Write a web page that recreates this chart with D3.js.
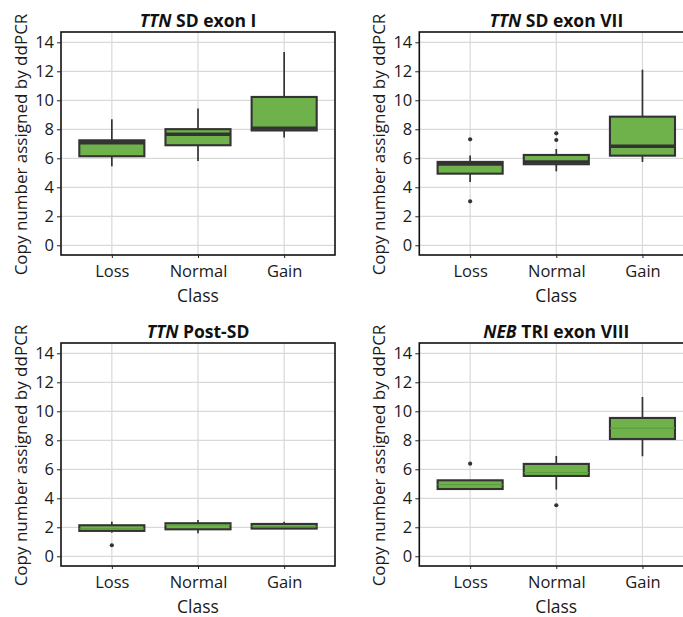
<!DOCTYPE html>
<html><head><meta charset="utf-8">
<script src="https://cdn.jsdelivr.net/npm/d3@7"></script>
<style>html,body{margin:0;padding:0;background:#fff;overflow:hidden}svg{display:block}</style>
</head><body>
<script>
// ---- data ----
const categories = ["Loss", "Normal", "Gain"];
const yTicks = [0, 2, 4, 6, 8, 10, 12, 14];
const titleGenes = ["TTN", "TTN", "TTN", "NEB"];
const titleRest = [" SD exon I", " SD exon VII", " Post-SD", " TRI exon VIII"];
const xLabel = "Class";
const yLabel = "Copy number assigned by ddPCR";
// [whisker low, Q1, median, Q3, whisker high] per category
const exonIStats   = [[5.45, 6.14, 7.07, 7.24, 8.69], [5.82, 6.90, 7.66, 8.01, 9.43], [7.43, 7.92, 8.08, 10.23, 13.33]];
const exonVIIStats = [[4.37, 4.94, 5.61, 5.75, 6.20], [5.10, 5.59, 5.75, 6.23, 6.64], [5.75, 6.18, 6.83, 8.87, 12.11]];
const postSDStats  = [[1.63, 1.75, 1.90, 2.14, 2.39], [1.59, 1.86, 2.16, 2.28, 2.50], [1.88, 1.91, 2.05, 2.23, 2.38]];
const nebVIIIStats = [[4.64, 4.64, 4.94, 5.24, 5.24], [4.60, 5.54, 5.77, 6.37, 6.92], [6.90, 8.09, 8.83, 9.54, 10.99]];
const exonIOutliers   = [[], [], []];
const exonVIIOutliers = [[7.31, 3.03], [7.72, 7.26], []];
const postSDOutliers  = [[0.76], [], []];
const nebVIIIOutliers = [[6.39], [3.52], []];

const panels = [
  {stats: exonIStats, out: exonIOutliers, gene: titleGenes[0], rest: titleRest[0], left: 61, top: 32, thickMedian: true},
  {stats: exonVIIStats, out: exonVIIOutliers, gene: titleGenes[1], rest: titleRest[1], left: 419.3, top: 32, thickMedian: true},
  {stats: postSDStats, out: postSDOutliers, gene: titleGenes[2], rest: titleRest[2], left: 61, top: 343, thickMedian: false},
  {stats: nebVIIIStats, out: nebVIIIOutliers, gene: titleGenes[3], rest: titleRest[3], left: 419.3, top: 343, thickMedian: false}
];

const W = 683, H = 617;
const pw = 274, ph = 223;
const FONT = "'Open Sans', 'Noto Sans', sans-serif";
const svg = d3.select("body").append("svg").attr("width", W).attr("height", H)
  .style("font-family", FONT);

const green = "#6fb24b", dark = "#333333", gridC = "#d9d9d9";

panels.forEach(p => {
  const g = svg.append("g").attr("transform", `translate(${p.left},${p.top})`);
  const x = d3.scalePoint().domain(categories).range([0, pw]).padding(0.59);
  const y = d3.scaleLinear().domain([-0.67, 14.71]).range([ph, 0]);
  const bw = x.step() * 0.755;

  // grid
  g.selectAll(".gy").data(yTicks).join("line")
    .attr("x1", 0).attr("x2", pw).attr("y1", d => y(d)).attr("y2", d => y(d))
    .attr("stroke", gridC).attr("stroke-width", 1.2);
  g.selectAll(".gx").data(categories).join("line")
    .attr("x1", d => x(d)).attr("x2", d => x(d)).attr("y1", 0).attr("y2", ph)
    .attr("stroke", gridC).attr("stroke-width", 1.2);

  // boxes
  categories.forEach((c, i) => {
    const [lo, q1, med, q3, hi] = p.stats[i];
    const cx = x(c);
    g.append("line").attr("x1", cx).attr("x2", cx).attr("y1", y(hi)).attr("y2", y(q3))
      .attr("stroke", dark).attr("stroke-width", 1.7);
    g.append("line").attr("x1", cx).attr("x2", cx).attr("y1", y(q1)).attr("y2", y(lo))
      .attr("stroke", dark).attr("stroke-width", 1.7);
    g.append("rect").attr("x", cx - bw / 2).attr("width", bw)
      .attr("y", y(q3)).attr("height", y(q1) - y(q3))
      .attr("fill", green).attr("stroke", dark).attr("stroke-width", 2.1);
    g.append("line").attr("x1", cx - bw / 2).attr("x2", cx + bw / 2)
      .attr("y1", y(med)).attr("y2", y(med))
      .attr("stroke", p.thickMedian ? dark : "#5a9a3c")
      .attr("stroke-width", p.thickMedian ? 3.4 : 1);
    g.selectAll(null).data(p.out[i]).join("circle")
      .attr("cx", cx).attr("cy", d => y(d)).attr("r", 2.1).attr("fill", dark);
  });

  // frame
  g.append("rect").attr("x", 0).attr("y", 0).attr("width", pw).attr("height", ph)
    .attr("fill", "none").attr("stroke", "#111").attr("stroke-width", 1.6);

  // axes
  const ya = g.append("g").call(d3.axisLeft(y).tickValues(yTicks).tickSize(4).tickPadding(3).tickFormat(d3.format("d")));
  ya.select(".domain").remove();
  ya.selectAll("line").attr("stroke", "#222");
  ya.selectAll("text").attr("font-size", 16.5).attr("fill", "#1a1a1a").attr("font-family", FONT);
  const xa = g.append("g").attr("transform", `translate(0,${ph})`)
    .call(d3.axisBottom(x).tickSize(3).tickPadding(7));
  xa.select(".domain").remove();
  xa.selectAll("line").attr("stroke", "#222");
  xa.selectAll("text").attr("font-size", 16.5).attr("fill", "#1a1a1a").attr("font-family", FONT);

  // title
  const t = g.append("text").attr("x", pw / 2).attr("y", -5).attr("text-anchor", "middle")
    .attr("font-size", 17.5).attr("font-weight", "bold").attr("fill", "#111");
  t.append("tspan").attr("font-style", "italic").text(p.gene);
  t.append("tspan").text(p.rest);

  // axis labels
  g.append("text").attr("x", x("Normal")).attr("y", ph + 47).attr("text-anchor", "middle")
    .attr("font-size", 17.5).attr("fill", "#1a1a1a").text(xLabel);
  g.append("text").attr("transform", `translate(-34,${ph / 2 + 1}) rotate(-90)`)
    .attr("text-anchor", "middle").attr("font-size", 17).attr("fill", "#1a1a1a").text(yLabel);
});
</script>
</body></html>
